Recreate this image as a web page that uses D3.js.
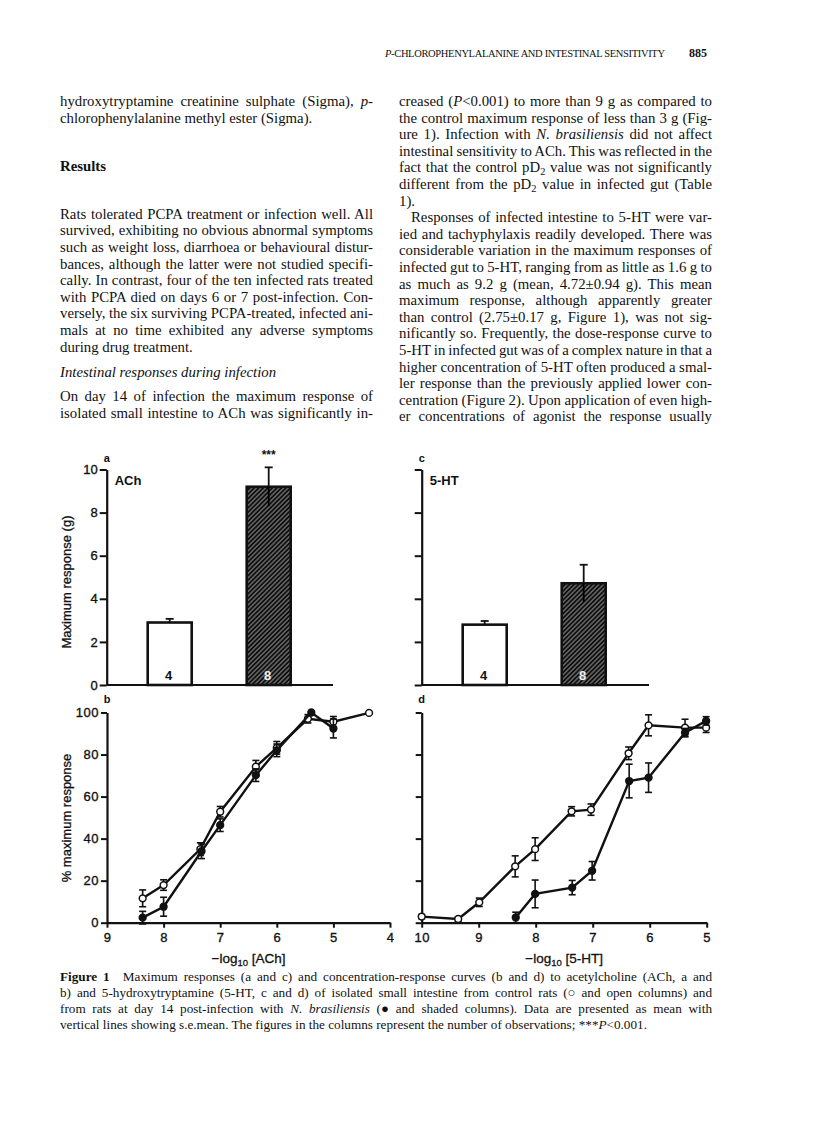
<!DOCTYPE html>
<html><head><meta charset="utf-8">
<script src="https://cdn.jsdelivr.net/npm/d3@7"></script>
<style>
html,body{margin:0;padding:0;background:#fff;}
svg{display:block;}
.serif{font-family:"Liberation Serif","Times New Roman",serif;}
.sans{font-family:"Liberation Sans",Arial,sans-serif;}
</style></head><body>
<svg id="page" width="816" height="1133"></svg>
<script>
// ---------------- DATA ----------------
const barCategories = ["control", "infected"];
const achMaxMean = [2.9, 9.2];
const achMaxSem = [0.17, 0.9];
const htMaxMean = [2.8, 4.72];
const htMaxSem = [0.17, 0.86];
const barN = ["4", "8"];
const barTicks = [0, 2, 4, 6, 8, 10];

const achControlX = [8.37, 8.0, 7.35, 7.0, 6.37, 6.0, 5.45, 5.0, 4.37];
const achControlY = [11.6, 17.9, 35, 52.8, 74.2, 83.2, 97, 95.6, 99.8];
const achControlE = [4, 2.5, 3, 2.5, 3, 3, 2, 2.5, 0];
const achInfX = [8.37, 8.0, 7.33, 7.0, 6.37, 6.0, 5.39, 5.0];
const achInfY = [2.4, 7.6, 34, 46.4, 70.2, 82, 100, 92.4];
const achInfE = [3, 4.5, 3.5, 3, 3, 3, 0, 4.5];

const htControlX = [10, 9.36, 8.99, 8.36, 8.01, 7.37, 7.03, 6.37, 6.02, 5.38, 5.01];
const htControlY = [2.9, 1.75, 9.7, 26.8, 35, 53, 53.8, 80.6, 93.9, 92.8, 92.8];
const htControlE = [1, 1, 2, 5, 5.4, 2.2, 2.7, 3, 5, 4, 2.3];
const htInfX = [8.35, 8.01, 7.36, 7.01, 6.36, 6.02, 5.38, 5.01];
const htInfY = [2.5, 13.7, 16.7, 24.7, 67.4, 69.0, 90.4, 96];
const htInfE = [2.5, 6.6, 3.4, 4.4, 8, 7, 2, 2];

const pctTicks = [0, 20, 40, 60, 80, 100];
const achXTicks = [9, 8, 7, 6, 5, 4];
const htXTicks = [10, 9, 8, 7, 6, 5];

// ---------------- TEXT ----------------
const header = [{t:"P", s:"i"}, {t:"-CHLOROPHENYLALANINE AND INTESTINAL SENSITIVITY"}];
const pageNo = "885";

const leftCol = [
 {k:0, j:1, segs:[{t:"hydroxytryptamine creatinine sulphate (Sigma), "},{t:"p",s:"i"},{t:"-"}]},
 {k:1, j:0, segs:[{t:"chlorophenylalanine methyl ester (Sigma)."}]},
 {k:3.9, j:0, segs:[{t:"Results", s:"b"}]},
 {k:6.8, j:1, segs:[{t:"Rats tolerated PCPA treatment or infection well. All"}]},
 {k:7.8, j:1, segs:[{t:"survived, exhibiting no obvious abnormal symptoms"}]},
 {k:8.8, j:1, segs:[{t:"such as weight loss, diarrhoea or behavioural distur-"}]},
 {k:9.8, j:1, segs:[{t:"bances, although the latter were not studied specifi-"}]},
 {k:10.8, j:1, segs:[{t:"cally. In contrast, four of the ten infected rats treated"}]},
 {k:11.8, j:1, segs:[{t:"with PCPA died on days 6 or 7 post-infection. Con-"}]},
 {k:12.8, j:1, segs:[{t:"versely, the six surviving PCPA-treated, infected ani-"}]},
 {k:13.8, j:1, segs:[{t:"mals at no time exhibited any adverse symptoms"}]},
 {k:14.8, j:0, segs:[{t:"during drug treatment."}]},
 {k:16.3, j:0, segs:[{t:"Intestinal responses during infection", s:"i"}]},
 {k:17.8, j:1, segs:[{t:"On day 14 of infection the maximum response of"}]},
 {k:18.8, j:1, segs:[{t:"isolated small intestine to ACh was significantly in-"}]}
];
const rightCol = [
 {k:0, j:1, segs:[{t:"creased ("},{t:"P",s:"i"},{t:"<0.001) to more than 9 g as compared to"}]},
 {k:1, j:1, segs:[{t:"the control maximum response of less than 3 g (Fig-"}]},
 {k:2, j:1, segs:[{t:"ure 1). Infection with "},{t:"N. brasiliensis",s:"i"},{t:" did not affect"}]},
 {k:3, j:1, segs:[{t:"intestinal sensitivity to ACh. This was reflected in the"}]},
 {k:4, j:1, segs:[{t:"fact that the control pD"},{t:"2",s:"sub"},{t:" value was not significantly"}]},
 {k:5, j:1, segs:[{t:"different from the pD"},{t:"2",s:"sub"},{t:" value in infected gut (Table"}]},
 {k:6, j:0, segs:[{t:"1)."}]},
 {k:7, j:1, ind:1, segs:[{t:"Responses of infected intestine to 5-HT were var-"}]},
 {k:8, j:1, segs:[{t:"ied and tachyphylaxis readily developed. There was"}]},
 {k:9, j:1, segs:[{t:"considerable variation in the maximum responses of"}]},
 {k:10, j:1, segs:[{t:"infected gut to 5-HT, ranging from as little as 1.6 g to"}]},
 {k:11, j:1, segs:[{t:"as much as 9.2 g (mean, 4.72\u00b10.94 g). This mean"}]},
 {k:12, j:1, segs:[{t:"maximum response, although apparently greater"}]},
 {k:13, j:1, segs:[{t:"than control (2.75\u00b10.17 g, Figure 1), was not sig-"}]},
 {k:14, j:1, segs:[{t:"nificantly so. Frequently, the dose-response curve to"}]},
 {k:15, j:1, segs:[{t:"5-HT in infected gut was of a complex nature in that a"}]},
 {k:16, j:1, segs:[{t:"higher concentration of 5-HT often produced a smal-"}]},
 {k:17, j:1, segs:[{t:"ler response than the previously applied lower con-"}]},
 {k:18, j:1, segs:[{t:"centration (Figure 2). Upon application of even high-"}]},
 {k:19, j:1, segs:[{t:"er concentrations of agonist the response usually"}]}
];
const caption = [
 {j:1, segs:[{t:"Figure 1",s:"b"},{t:"\u2003Maximum responses (a and c) and concentration-response curves (b and d) to acetylcholine (ACh, a and"}]},
 {j:1, segs:[{t:"b) and 5-hydroxytryptamine (5-HT, c and d) of isolated small intestine from control rats (\u25cb and open columns) and"}]},
 {j:1, segs:[{t:"from rats at day 14 post-infection with "},{t:"N. brasiliensis",s:"i"},{t:" (\u25cf and shaded columns). Data are presented as mean with"}]},
 {j:0, segs:[{t:"vertical lines showing s.e.mean. The figures in the columns represent the number of observations; ***"},{t:"P",s:"i"},{t:"<0.001."}]}
];

// ---------------- DRAW ----------------
const svg = d3.select("#page");
const defs = svg.append("defs");
const pat = defs.append("pattern").attr("id","hatch").attr("patternUnits","userSpaceOnUse")
  .attr("width",3.2).attr("height",3.2).attr("patternTransform","rotate(45)");
pat.append("rect").attr("width",3.2).attr("height",3.2).attr("fill","#0d0d0d");
pat.append("line").attr("x1",1.6).attr("x2",1.6).attr("y1",0).attr("y2",3.2)
  .attr("stroke","#cfcfcf").attr("stroke-width",0.7);

function writeLine(g, x, y, segs, width, size) {
  const t = g.append("text").attr("class","serif").attr("x",x).attr("y",y)
    .attr("font-size",size).attr("fill","#111");
  let shifted = false;
  segs.forEach(s => {
    const ts = t.append("tspan").text(s.t);
    if (s.s === "i") ts.attr("font-style","italic");
    if (s.s === "b") ts.attr("font-weight","bold");
    if (s.s === "sub") { ts.attr("font-size", size*0.7).attr("dy", 3); shifted = true; }
    else if (shifted) { ts.attr("dy", -3); shifted = false; }
  });
  if (width) {
    const nat = t.node().getComputedTextLength();
    const spaces = segs.map(s => s.t).join("").split(" ").length - 1;
    if (spaces > 0) t.style("word-spacing", ((width - nat) / spaces) + "px");
  }
  return t;
}

const S = 16.6, B0 = 106, FS = 14.8;
const colL = {x:60, w:313}, colR = {x:399, w:313};
const txt = svg.append("g");
const ht = writeLine(txt, 385, 57, header, null, 10.5);
ht.attr("textLength", 280).attr("lengthAdjust","spacing");
txt.append("text").attr("class","serif").attr("x",707).attr("y",57).attr("text-anchor","end")
  .attr("font-size",12).attr("font-weight","bold").attr("fill","#111").text(pageNo);
leftCol.forEach(l => writeLine(txt, colL.x, B0 + l.k*S, l.segs, l.j ? colL.w : null, FS));
rightCol.forEach(l => {
  const ind = l.ind ? 12 : 0;
  writeLine(txt, colR.x + ind, B0 + l.k*S, l.segs, l.j ? colR.w - ind : null, FS);
});
caption.forEach((l, i) => writeLine(txt, 60, 981 + i*16, l.segs, l.j ? 652 : null, 13.2));

// ---- bar panels ----
const yBar = d3.scaleLinear().domain([0,10]).range([685, 469.5]);
function barPanel(x0, xEnd, means, sems, letter, label, showLabels) {
  const g = svg.append("g");
  const xc = d3.scalePoint().domain(barCategories).range([x0+63, x0+162]);
  const bw = 44;
  const ax = d3.axisLeft(yBar).tickValues(barTicks).tickSize(7).tickSizeOuter(0).tickPadding(2)
    .tickFormat(showLabels ? d3.format("d") : "");
  const ag = g.append("g").attr("transform",`translate(${x0},0)`).call(ax);
  ag.select(".domain").attr("stroke","#111").attr("stroke-width",2.2);
  ag.selectAll(".tick line").attr("stroke","#111").attr("stroke-width",2);
  ag.selectAll(".tick text").attr("class","sans").attr("font-size",13).attr("fill","#111")
    .attr("stroke","#111").attr("stroke-width",0.35);
  g.append("line").attr("x1",x0).attr("x2",xEnd).attr("y1",yBar(0)).attr("y2",yBar(0))
    .attr("stroke","#111").attr("stroke-width",2.2);
  barCategories.forEach((c,i) => {
    const cx = xc(c);
    const eg = g.append("g").attr("stroke","#111").attr("stroke-width",1.8);
    eg.append("line").attr("x1",cx).attr("x2",cx).attr("y1",yBar(means[i]+sems[i])).attr("y2",yBar(means[i]-sems[i]));
    eg.append("line").attr("x1",cx-4).attr("x2",cx+4).attr("y1",yBar(means[i]+sems[i])).attr("y2",yBar(means[i]+sems[i]));
    if (i === 0) eg.append("line").attr("x1",cx-4).attr("x2",cx+4).attr("y1",yBar(means[i]-sems[i])).attr("y2",yBar(means[i]-sems[i]));
    g.append("rect").attr("x",cx-bw/2).attr("y",yBar(means[i])).attr("width",bw)
      .attr("height",yBar(0)-yBar(means[i]))
      .attr("fill", i===0 ? "#fff" : "url(#hatch)")
      .attr("stroke","#111").attr("stroke-width",2.6);
    if (i === 1) {
      g.append("line").attr("x1",cx).attr("x2",cx).attr("y1",yBar(means[i])).attr("y2",yBar(means[i]-sems[i]))
        .attr("stroke","#000").attr("stroke-width",1.8);
    }
    g.append("text").attr("class","sans").attr("x",cx-1).attr("y",680).attr("text-anchor","middle")
      .attr("font-size",13).attr("font-weight","bold")
      .attr("fill", i===0 ? "#111" : "#fff").attr("stroke", i===0 ? "none" : "#999")
      .attr("stroke-width",0.6).attr("stroke-dasharray","1,1").text(barN[i]);
  });
  g.append("text").attr("class","sans").attr("x",x0).attr("y",yBar(10)-8).attr("text-anchor","middle")
    .attr("font-size",11).attr("font-weight","bold").attr("fill","#111").text(letter);
  g.append("text").attr("class","sans").attr("x",x0+8).attr("y",yBar(10)+15)
    .attr("font-size",13).attr("font-weight","bold").attr("fill","#111").text(label);
  return {g, xc};
}
const pa = barPanel(106.7, 333, achMaxMean, achMaxSem, "a", "ACh", true);
pa.g.append("text").attr("class","sans").attr("x",pa.xc("infected")).attr("y",yBar(achMaxMean[1]+achMaxSem[1])-8)
  .attr("text-anchor","middle").attr("font-size",12).attr("font-weight","bold").attr("fill","#111").text("***");
svg.append("text").attr("class","sans").attr("transform","translate(71,582) rotate(-90)")
  .attr("text-anchor","middle").attr("font-size",13).attr("fill","#111").attr("stroke","#111").attr("stroke-width",0.3)
  .text("Maximum response (g)");
barPanel(421.7, 649, htMaxMean, htMaxSem, "c", "5-HT", false);

// ---- curve panels ----
const yPct = d3.scaleLinear().domain([0,100]).range([922.7, 712.5]);
function curvePanel(xDomain, xRange, ticks, series, letter, showY, xlabel) {
  const g = svg.append("g");
  const x = d3.scaleLinear().domain(xDomain).range(xRange);
  const ay = d3.axisLeft(yPct).tickValues(pctTicks).tickSize(6).tickSizeOuter(0).tickPadding(2)
    .tickFormat(showY ? d3.format("d") : "");
  const ayg = g.append("g").attr("transform",`translate(${xRange[0]},0)`).call(ay);
  const axb = d3.axisBottom(x).tickValues(ticks).tickSize(5).tickSizeOuter(0).tickPadding(5).tickFormat(d3.format("d"));
  const axg = g.append("g").attr("transform",`translate(0,${yPct(0)})`).call(axb);
  [ayg, axg].forEach(a => {
    a.select(".domain").attr("stroke","#111").attr("stroke-width",2.2);
    a.selectAll(".tick line").attr("stroke","#111").attr("stroke-width",2);
    a.selectAll(".tick text").attr("class","sans").attr("font-size",13).attr("fill","#111")
      .attr("stroke","#111").attr("stroke-width",0.35).attr("letter-spacing",0.5);
  });
  const line = d3.line().x(d => x(d[0])).y(d => yPct(d[1]));
  series.forEach(s => {
    const pts = s.x.map((v,i) => [v, s.y[i], s.e[i]]);
    g.append("path").datum(pts).attr("d",line).attr("fill","none").attr("stroke","#111").attr("stroke-width",2.4);
    const eg = g.append("g").attr("stroke","#111").attr("stroke-width",1.6);
    pts.filter(p => p[2] > 0).forEach(p => {
      const cx = x(p[0]);
      eg.append("line").attr("x1",cx).attr("x2",cx).attr("y1",yPct(p[1]+p[2])).attr("y2",yPct(p[1]-p[2]));
      eg.append("line").attr("x1",cx-3.5).attr("x2",cx+3.5).attr("y1",yPct(p[1]+p[2])).attr("y2",yPct(p[1]+p[2]));
      eg.append("line").attr("x1",cx-3.5).attr("x2",cx+3.5).attr("y1",yPct(p[1]-p[2])).attr("y2",yPct(p[1]-p[2]));
    });
    g.selectAll(null).data(pts).join("circle").attr("cx",d => x(d[0])).attr("cy",d => yPct(d[1]))
      .attr("r",3.4).attr("fill", s.filled ? "#111" : "#fff").attr("stroke","#111").attr("stroke-width",1.5);
  });
  g.append("text").attr("class","sans").attr("x",xRange[0]).attr("y",703).attr("text-anchor","middle")
    .attr("font-size",11).attr("font-weight","bold").attr("fill","#111").text(letter);
  const xl = g.append("text").attr("class","sans").attr("x",(xRange[0]+xRange[1])/2).attr("y",963)
    .attr("text-anchor","middle").attr("font-size",13.5).attr("fill","#111").attr("stroke","#111").attr("stroke-width",0.3);
  xl.append("tspan").text("\u2212log");
  xl.append("tspan").attr("font-size",9.5).attr("dy",3).text("10");
  xl.append("tspan").attr("dy",-3).text(" [" + xlabel + "]");
  return g;
}
curvePanel([9,4],[107,390], achXTicks, [
  {x:achControlX, y:achControlY, e:achControlE, filled:false},
  {x:achInfX, y:achInfY, e:achInfE, filled:true}], "b", true, "ACh");
svg.append("text").attr("class","sans").attr("transform","translate(71,818) rotate(-90)")
  .attr("text-anchor","middle").attr("font-size",13).attr("fill","#111").attr("stroke","#111").attr("stroke-width",0.3)
  .text("% maximum response");
curvePanel([10,5],[421.7,706.7], htXTicks, [
  {x:htControlX, y:htControlY, e:htControlE, filled:false},
  {x:htInfX, y:htInfY, e:htInfE, filled:true}], "d", false, "5-HT");
</script>
</body></html>
